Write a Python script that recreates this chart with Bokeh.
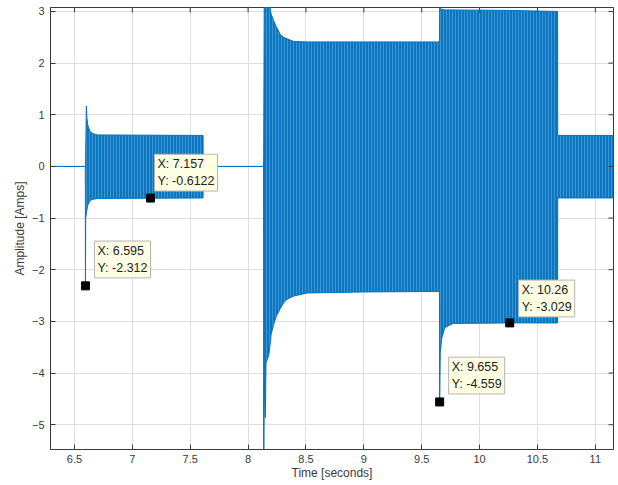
import numpy as np
from bokeh.plotting import figure
from bokeh.models import Range1d, FixedTicker, Label, ColumnDataSource
from bokeh.embed import file_html
from bokeh.resources import INLINE

# Envelope of the oscillating current
t = [6.293, 6.594, 6.595, 6.597, 6.603, 6.607, 6.615, 6.63, 6.65, 6.70, 7.611,
     7.612, 8.134, 8.135, 8.140, 8.149, 8.155, 8.178, 8.193, 8.199, 8.221, 8.236, 8.25,
     8.279, 8.307, 8.337, 8.394, 8.51, 9.0, 9.654, 9.655, 9.66, 9.675, 9.70, 9.77,
     10.26, 10.674, 10.675, 11.157]
upper = [0, 0, 0, 0.3, 1.17, 0.95, 0.80, 0.70, 0.64, 0.61, 0.60,
         0, 0, 0.25, 3.5, 3.5, 3.5, 3.3, 3.03, 2.95, 2.82, 2.74, 2.68,
         2.55, 2.50, 2.47, 2.42, 2.41, 2.41, 2.41, 3.10, 3.06, 3.04, 3.03, 3.03,
         3.02, 3.00, 0.60, 0.60]
lower = [0, 0, -2.312, -1.0, -0.90, -0.85, -0.75, -0.68, -0.64, -0.62, -0.61,
         0, 0, -6.0, -4.2, -4.86, -3.8, -3.66, -3.4, -3.25, -3.06, -2.95, -2.87,
         -2.75, -2.64, -2.57, -2.51, -2.45, -2.43, -2.42, -4.559, -3.6, -3.31, -3.12, -3.04,
         -3.029, -3.03, -0.61, -0.61]

# Data tips
tip_x = [6.595, 7.157, 9.655, 10.26]
tip_y = [-2.312, -0.6122, -4.559, -3.029]
tip_text = ["X: 6.595\nY: -2.312", "X: 7.157\nY: -0.6122",
            "X: 9.655\nY: -4.559", "X: 10.26\nY: -3.029"]
tip_dx = [9, 4, 9, 9]
tip_dy = [8, 7, 8, 6]

x_ticks = [6.5, 7, 7.5, 8, 8.5, 9, 9.5, 10, 10.5, 11]
y_ticks = [-5, -4, -3, -2, -1, 0, 1, 2, 3]
X0, X1 = 6.293, 11.157
Y0, Y1 = -5.48, 3.077

BLUE = "#0072BD"
AX = "#3a3a3a"
FONT = "Liberation Sans"

p = figure(width=616, height=482, output_backend="svg", toolbar_location=None,
           x_range=Range1d(X0, X1), y_range=Range1d(Y0, Y1),
           min_border_left=50, min_border_right=3, min_border_top=7, min_border_bottom=0)
p.background_fill_color = "white"
p.border_fill_color = "white"
p.outline_line_color = AX
p.outline_line_width = 1

env = ColumnDataSource(dict(t=t, upper=upper, lower=lower))
p.varea(x="t", y1="lower", y2="upper", source=env, fill_color="#0c76c1",
        hatch_pattern="vertical_line", hatch_color="#4a9fdc", hatch_scale=3,
        hatch_weight=1, hatch_alpha=0.75)
p.line(x="t", y="upper", source=env, line_color=BLUE, line_width=1)
p.line(x="t", y="lower", source=env, line_color=BLUE, line_width=1)

p.scatter(tip_x, tip_y, marker="square", size=8, fill_color="black", line_color="black")
for x, y, s, dx, dy in zip(tip_x, tip_y, tip_text, tip_dx, tip_dy):
    p.add_layout(Label(x=x, y=y, x_offset=dx, y_offset=dy, text=s,
                       text_font=FONT, text_font_size="12.5px", text_color="#222222",
                       text_align="left", text_baseline="bottom",
                       background_fill_color="#ffffe4", border_line_color="#b4b4b4",
                       padding=3))

for ax in (p.xaxis[0], p.yaxis[0]):
    ax.axis_line_color = AX
    ax.major_tick_line_color = AX
    ax.major_tick_in = 5
    ax.major_tick_out = 0
    ax.minor_tick_line_color = None
    ax.major_label_text_color = AX
    ax.major_label_text_font = FONT
    ax.major_label_text_font_size = "11px"
    ax.axis_label_text_font = FONT
    ax.axis_label_text_font_size = "12px"
    ax.axis_label_text_font_style = "normal"
    ax.axis_label_text_color = AX

p.xaxis[0].ticker = FixedTicker(ticks=x_ticks)
p.yaxis[0].ticker = FixedTicker(ticks=y_ticks)
p.xaxis[0].axis_label = "Time [seconds]"
p.yaxis[0].axis_label = "Amplitude [Amps]"
p.xaxis[0].major_label_standoff = 5
p.xaxis[0].axis_label_standoff = 0
p.yaxis[0].major_label_standoff = 6
p.yaxis[0].axis_label_standoff = 2

# inward ticks on the top and right edges of the box
p.scatter(x_ticks, [Y1] * len(x_ticks), marker="dash", size=10, angle=np.pi / 2,
          line_color=AX, line_width=1)
p.scatter([X1] * len(y_ticks), y_ticks, marker="dash", size=10,
          line_color=AX, line_width=1)

p.xgrid.ticker = FixedTicker(ticks=x_ticks)
p.ygrid.ticker = FixedTicker(ticks=y_ticks)
p.grid.grid_line_color = "#dedede"
p.grid.grid_line_width = 1

open("out.html", "w").write(file_html(p, INLINE))
